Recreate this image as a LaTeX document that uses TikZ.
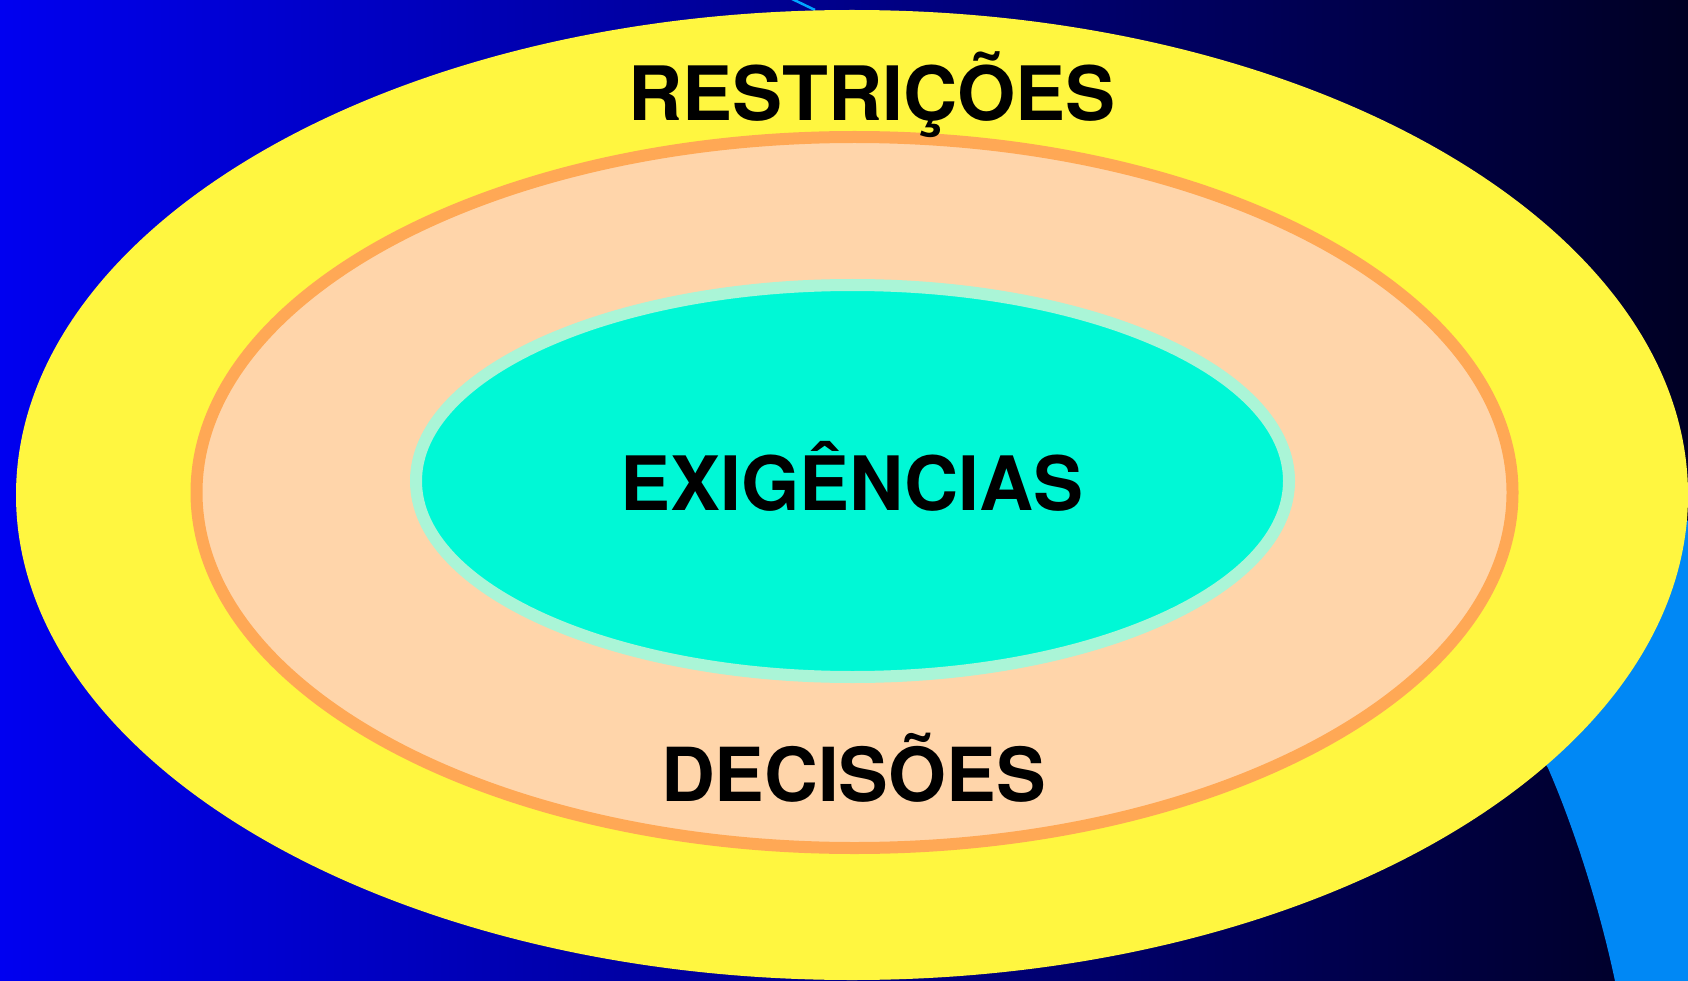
\documentclass[tikz,border=0pt]{standalone}
\usepackage{fontspec}
\setmainfont{TeX Gyre Heros}
\definecolor{bgleft}{RGB}{0,0,240}
\definecolor{bgmid}{RGB}{0,0,175}
\definecolor{bgright}{RGB}{0,0,35}
\definecolor{skyblue}{RGB}{0,136,245}
\definecolor{lineblue}{RGB}{0,165,255}
\definecolor{ringyellow}{RGB}{255,246,64}
\definecolor{peach}{RGB}{255,213,170}
\definecolor{peachedge}{RGB}{255,168,85}
\definecolor{aqua}{RGB}{0,248,214}
\definecolor{aquaedge}{RGB}{170,245,215}
\tikzset{
  label text/.style={font=\bfseries\fontsize{75}{90}\selectfont, text=black, anchor=base, inner sep=0pt}
}
\begin{document}
\begin{tikzpicture}[x=1pt,y=-1pt]
\useasboundingbox (0,0) rectangle (1688,981);
% background
\shade[left color=bgleft, middle color=bgmid, right color=bgright] (0,0) rectangle (1688,981);
% light blue shape behind, lower right
\fill[skyblue] (1530,740) -- (1548,768) .. controls (1575,830) and (1600,910) .. (1615,981)
  -- (1688,981) -- (1688,520) -- cycle;
% thin light line at top
\draw[lineblue, line width=2.5pt] (790,-2) -- (815,10);
% outer yellow ellipse
\fill[ringyellow] (852,495) ellipse [x radius=836pt, y radius=485pt];
% middle peach ellipse
\filldraw[fill=peach, draw=peachedge, line width=12pt] (854.5,492.5) ellipse [x radius=658pt, y radius=355.5pt];
% inner aqua ellipse
\filldraw[fill=aqua, draw=aquaedge, line width=12pt] (852.5,481) ellipse [x radius=436.5pt, y radius=196pt];
% labels
\node[label text] (restr) at (872,121) {RESTRIÇÕES};
\node[label text] (exig) at (852,510) {EXIGÊNCIAS};
\node[label text, font=\bfseries\fontsize{74.5}{90}\selectfont] (decis) at (853.5,801.7) {DECISÕES};
\end{tikzpicture}
\end{document}
